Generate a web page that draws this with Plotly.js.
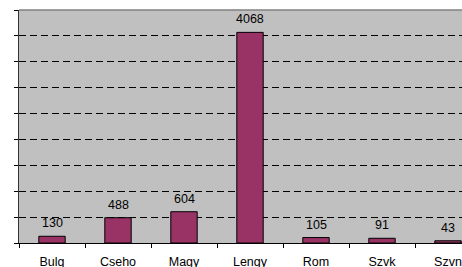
<!DOCTYPE html>
<html><head><meta charset="utf-8">
<script src="https://cdn.plot.ly/plotly-3.0.1.min.js"></script>
<style>html,body{margin:0;padding:0;overflow:hidden;background:#fff;width:462px;height:267px}</style>
</head><body><div id="chart" style="width:482px;height:267px"></div>
<script>
const categories = ["Bulg", "Cseho", "Magy", "Lengy", "Rom", "Szvk", "Szvn"];
const values = [130, 488, 604, 4068, 105, 91, 43];
const yTicks = [0, 500, 1000, 1500, 2000, 2500, 3000, 3500, 4000, 4500];
const FONT = "Liberation Sans, Arial, sans-serif";

const trace = {
  type: "bar", x: categories, y: values,
  marker: {color: "#993366", line: {color: "#000", width: 1}},
  hoverinfo: "none"
};
const labels = categories.map((c, i) => ({
  x: c, y: values[i], xref: "x", yref: "y", text: String(values[i]),
  showarrow: false, yanchor: "bottom", yshift: 4,
  font: {family: FONT, size: 12.5, color: "#000"}
}));
const layout = {
  width: 482, height: 267,
  margin: {l: 19, r: 1, t: 10, b: 24},
  paper_bgcolor: "#fff", plot_bgcolor: "#C0C0C0",
  bargap: 0.6, showlegend: false,
  font: {family: FONT, size: 12.5, color: "#000"},
  xaxis: {type: "category", tickson: "boundaries", ticks: "outside", ticklen: 4, tickcolor: "#000",
          showline: true, linecolor: "#000", linewidth: 1, showgrid: false, ticklabelstandoff: 7,
          tickfont: {size: 12.5}},
  yaxis: {range: [0, 4500], tickvals: yTicks, ticks: "outside", ticklen: 4, tickcolor: "#000",
          showticklabels: false, showline: true, linecolor: "#333", linewidth: 1,
          showgrid: true, gridcolor: "#000", gridwidth: 1, griddash: "7px,4px", zeroline: false},
  annotations: labels,
  shapes: [{type: "line", xref: "paper", yref: "paper", x0: 0, x1: 1, y0: 1, y1: 1,
            line: {color: "#808080", width: 1.5}, layer: "above"}]
};
Plotly.newPlot("chart", [trace], layout, {displayModeBar: false, staticPlot: true});
</script></body></html>
